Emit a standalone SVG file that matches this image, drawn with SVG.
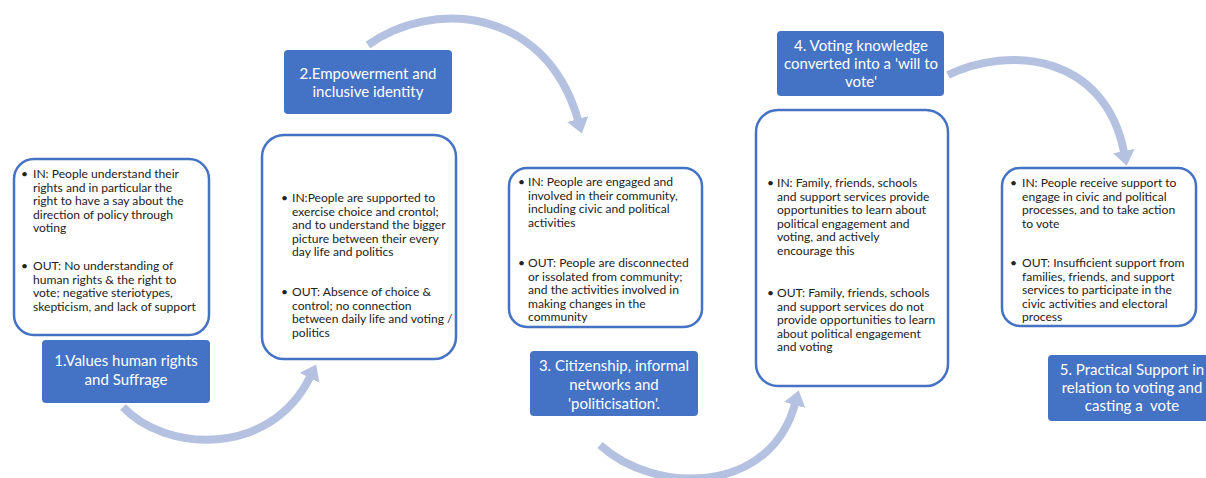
<svg xmlns="http://www.w3.org/2000/svg" width="1206" height="478" viewBox="0 0 1206 478">
<style>
.box{fill:#fff;stroke:#4472C4;stroke-width:2.5}
.lab{fill:#4472C4;stroke:none}
.t{font-family:Lato,"Liberation Sans",sans-serif;font-size:12.1px;fill:#222}
.lt{font-family:Lato,"Liberation Sans",sans-serif;font-size:15px;fill:#fff;text-anchor:middle}
.arc{fill:none;stroke:#B4C1E1;stroke-width:8}
</style>
<defs>
<marker id="ah" markerUnits="userSpaceOnUse" markerWidth="24" markerHeight="24" refX="1" refY="11" orient="auto">
<path d="M0,0 L15,11 L0,22 z" fill="#B4C1E1"/>
</marker>
</defs>
<rect width="1206" height="478" fill="#fff"/>
<g id="connectors">
<path class="arc" d="M123,407 C165,452 270,458 310,377" marker-end="url(#ah)"/>
<path class="arc" d="M368,45 C430,0 545,5 578,120" marker-end="url(#ah)"/>
<path class="arc" d="M600,445 C655,495 770,495 795,404" marker-end="url(#ah)"/>
<path class="arc" d="M948,75 C1010,45 1105,55 1124,152" marker-end="url(#ah)"/>
</g>
<g id="box1">
<rect class="box" x="14" y="159" width="195" height="176" rx="20"/>
<text class="t"><tspan x="21" y="178">•</tspan><tspan x="33" y="178">IN: People understand their</tspan><tspan x="33" y="191.5">rights and in particular the</tspan><tspan x="33" y="205">right to have a say about the</tspan><tspan x="33" y="218.5">direction of policy through</tspan><tspan x="33" y="232">voting</tspan>
<tspan x="21" y="270">•</tspan><tspan x="33" y="270">OUT: No understanding of</tspan><tspan x="33" y="283.5">human rights &amp; the right to</tspan><tspan x="33" y="297">vote; negative steriotypes,</tspan><tspan x="33" y="310.5">skepticism, and lack of support</tspan></text>
</g>
<g id="label1">
<rect class="lab" x="42" y="340" width="168" height="63" rx="4"/>
<text class="lt"><tspan x="126" y="366">1.Values human rights</tspan><tspan x="126" y="385">and Suffrage</tspan></text>
</g>
<g id="box2">
<rect class="box" x="262" y="135" width="194" height="224" rx="22"/>
<text class="t"><tspan x="281" y="202">•</tspan><tspan x="292" y="202">IN:People are supported to</tspan><tspan x="292" y="215.5">exercise choice and crontol;</tspan><tspan x="292" y="229">and to understand the bigger</tspan><tspan x="292" y="242.5">picture between their every</tspan><tspan x="292" y="256">day life and politics</tspan>
<tspan x="281" y="296">•</tspan><tspan x="292" y="296">OUT: Absence of choice &amp;</tspan><tspan x="292" y="309.5">control; no connection</tspan><tspan x="292" y="323">between daily life and voting /</tspan><tspan x="292" y="336.5">politics</tspan></text>
</g>
<g id="label2">
<rect class="lab" x="284" y="50" width="168" height="64" rx="4"/>
<text class="lt"><tspan x="368" y="79">2.Empowerment and</tspan><tspan x="368" y="97">inclusive identity</tspan></text>
</g>
<g id="box3">
<rect class="box" x="509" y="168" width="193" height="159" rx="18"/>
<text class="t"><tspan x="518" y="186">•</tspan><tspan x="528" y="186">IN: People are engaged and</tspan><tspan x="528" y="199.5">involved in their community,</tspan><tspan x="528" y="213">including civic and political</tspan><tspan x="528" y="226.5">activities</tspan>
<tspan x="518" y="267">•</tspan><tspan x="528" y="267">OUT: People are disconnected</tspan><tspan x="528" y="280.5">or issolated from community;</tspan><tspan x="528" y="294">and the activities involved in</tspan><tspan x="528" y="307.5">making changes in the</tspan><tspan x="528" y="321">community</tspan></text>
</g>
<g id="label3">
<rect class="lab" x="530" y="351" width="168" height="65" rx="4"/>
<text class="lt"><tspan x="614" y="371">3. Citizenship, informal</tspan><tspan x="614" y="390">networks and</tspan><tspan x="614" y="409">'politicisation'.</tspan></text>
</g>
<g id="box4">
<rect class="box" x="756" y="110" width="192" height="276" rx="22"/>
<text class="t"><tspan x="767" y="187">•</tspan><tspan x="777" y="187">IN: Family, friends, schools</tspan><tspan x="777" y="200.5">and support services provide</tspan><tspan x="777" y="214">opportunities to learn about</tspan><tspan x="777" y="227.5">political engagement and</tspan><tspan x="777" y="241">voting, and actively</tspan><tspan x="777" y="254.5">encourage this</tspan>
<tspan x="767" y="297">•</tspan><tspan x="777" y="297">OUT: Family, friends, schools</tspan><tspan x="777" y="310.5">and support services do not</tspan><tspan x="777" y="324">provide opportunities to learn</tspan><tspan x="777" y="337.5">about political engagement</tspan><tspan x="777" y="351">and voting</tspan></text>
</g>
<g id="label4">
<rect class="lab" x="777" y="31" width="167" height="65" rx="4"/>
<text class="lt"><tspan x="861" y="51">4. Voting knowledge</tspan><tspan x="861" y="69">converted into a 'will to</tspan><tspan x="861" y="87">vote'</tspan></text>
</g>
<g id="box5">
<rect class="box" x="1002" y="168" width="194" height="158" rx="18"/>
<text class="t"><tspan x="1010" y="187">•</tspan><tspan x="1022" y="187">IN: People receive support to</tspan><tspan x="1022" y="200.5">engage in civic and political</tspan><tspan x="1022" y="214">processes, and to take action</tspan><tspan x="1022" y="227.5">to vote</tspan>
<tspan x="1010" y="267">•</tspan><tspan x="1022" y="267">OUT: Insufficient support from</tspan><tspan x="1022" y="280.5">families, friends, and support</tspan><tspan x="1022" y="294">services to participate in the</tspan><tspan x="1022" y="307.5">civic activities and electoral</tspan><tspan x="1022" y="321">process</tspan></text>
</g>
<g id="label5">
<rect class="lab" x="1048" y="355" width="168" height="66" rx="4"/>
<text class="lt" xml:space="preserve"><tspan x="1132" y="375">5. Practical Support in</tspan><tspan x="1132" y="393">relation to voting and</tspan><tspan x="1132" y="411">casting a  vote</tspan></text>
</g>
</svg>
